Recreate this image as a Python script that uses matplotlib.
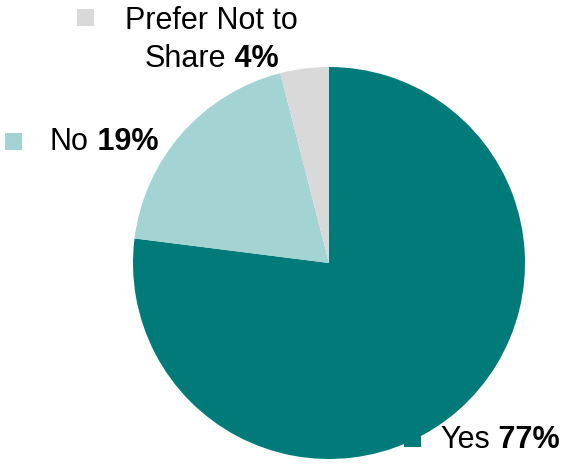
import matplotlib
matplotlib.use('Agg')
import matplotlib.pyplot as plt

# survey answers
answers = ['Yes', 'No', 'Prefer Not to', 'Share']
shares = [77, 19, 4]
colors = ['#007B7A', '#A3D3D3', '#D9D9D9']

W, H = 561, 472
plt.rcParams['font.family'] = ['Liberation Sans', 'DejaVu Sans']
fig = plt.figure(figsize=(W / 100, H / 100), dpi=100, facecolor='white')

# pie centre and radius in pixels
cx, cy, r = 329, 263, 196
ax = fig.add_axes([(cx - r) / W, (H - cy - r) / H, 2 * r / W, 2 * r / H])
ax.pie(shares, colors=colors, startangle=90, counterclock=False,
       wedgeprops=dict(linewidth=0))
ax.set_aspect('equal')
ax.set_xlim(-1, 1)
ax.set_ylim(-1, 1)
ax.axis('off')

fs = 22


def px(x, y):
    return x / W, 1 - y / H


def marker(mx, my, color):
    fig.patches.append(plt.Rectangle(px(mx, my + 17), 17 / W, 17 / H,
                                     transform=fig.transFigure,
                                     facecolor=color, edgecolor='none'))


def label(x, y, name, pct):
    t = fig.text(*px(x, y), name, fontsize=fs, va='baseline', ha='left')
    ax.annotate(' %d%%' % pct, xy=(1, 0), xycoords=t, va='bottom',
                ha='left', fontsize=fs, fontweight='bold',
                annotation_clip=False)


marker(404, 430, colors[0])
label(440, 448, answers[0], shares[0])

marker(5, 133, colors[1])
label(50, 150, answers[1], shares[1])

marker(77, 9, colors[2])
fig.text(*px(125, 29), answers[2], fontsize=fs, va='baseline', ha='left')
label(145, 67, answers[3], shares[2])

fig.savefig('out.png', dpi=100, facecolor='white')
